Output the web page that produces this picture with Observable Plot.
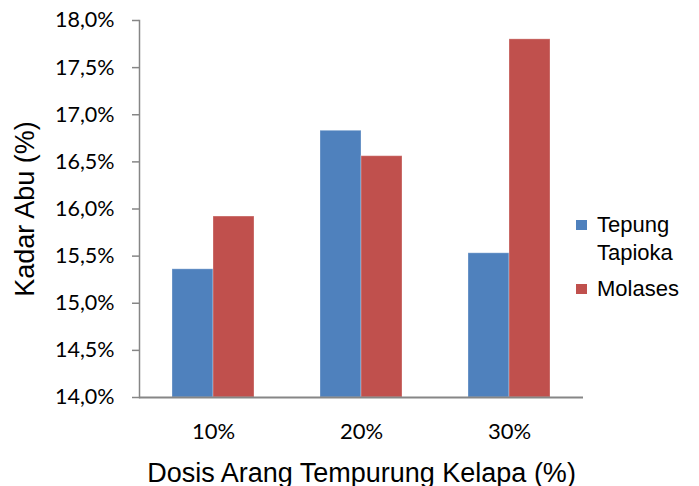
<!DOCTYPE html>
<html>
<head>
<meta charset="utf-8">
<script src="https://cdn.jsdelivr.net/npm/d3@7"></script>
<script src="https://cdn.jsdelivr.net/npm/@observablehq/plot@0.6"></script>
<style>
  html, body { margin: 0; padding: 0; background: #fff; }
  #chart { position: relative; width: 699px; height: 486px; }
  #chart svg { display: block; }
  #chart g[aria-label="y-axis label"],
  #chart g[aria-label="fx-axis label"] {
    font-family: "Liberation Sans", Arial, sans-serif;
    font-size: 27px;
  }
  .legend {
    position: absolute; left: 576px; top: 211px;
    font-family: "Liberation Sans", Arial, sans-serif; font-size: 22px; color: #000;
  }
  .legend .item { position: relative; padding-left: 21px; line-height: 28px; }
  .legend .item + .item { margin-top: 8px; }
  .legend .sw { position: absolute; left: 0; top: 9px; width: 11px; height: 10px; }
</style>
</head>
<body>
<div id="chart"></div>
<script>
// Ash content (%) by coconut-shell charcoal dose, for two binders
const doses = ["10%", "20%", "30%"];
const series = ["Tepung Tapioka", "Molases"];
const tepungTapioka = [15.36, 16.83, 15.53];
const molases = [15.92, 16.56, 17.8];
const colors = ["#4F81BD", "#C0504D"];
const yTicks = [14, 14.5, 15, 15.5, 16, 16.5, 17, 17.5, 18];
const yBase = 14;

const rows = doses.flatMap((dose, i) => [
  {dose, series: series[0], value: tepungTapioka[i]},
  {dose, series: series[1], value: molases[i]}
]);

const fmt = d => d.toFixed(1).replace(".", ",") + "%";

const chart = Plot.plot({
  width: 699,
  height: 486,
  marginLeft: 139,
  marginRight: 116,
  marginTop: 20,
  marginBottom: 89,
  style: {background: "#fff", color: "#000"},
  fx: {domain: doses, padding: 0},
  x: {domain: series, paddingInner: 0, paddingOuter: 0.762, axis: null},
  y: {domain: [yTicks[0], yTicks[yTicks.length - 1]]},
  color: {domain: series, range: colors},
  marks: [
    Plot.barY(rows, {
      fx: "dose", x: "series", y1: yBase, y2: "value", fill: "series",
      stroke: "#fff", strokeOpacity: 0.3, strokeWidth: 1
    }),
    // value axis line, drawn only beside the first group
    Plot.frame({anchor: "left", facetAnchor: "left", stroke: "#868686", strokeWidth: 1.5}),
    Plot.ruleY([yBase], {stroke: "#868686", strokeWidth: 2}),
    Plot.axisY({
      ticks: yTicks, tickFormat: fmt, tickSize: 7, tickPadding: 18,
      stroke: "#868686", strokeWidth: 1.5, fill: "#000",
      fontSize: 21.5, fontFamily: "Lato, sans-serif",
      label: "Kadar Abu (%)", labelAnchor: "center", labelArrow: "none", labelOffset: 125
    }),
    Plot.axisFx({
      anchor: "bottom",
      tickSize: 0, tickPadding: 26, fill: "#000",
      fontSize: 22, fontFamily: "Lato, sans-serif",
      label: "Dosis Arang Tempurung Kelapa (%)", labelAnchor: "center", labelArrow: "none", labelOffset: 84
    })
  ]
});

const host = document.getElementById("chart");
host.appendChild(chart);

// Legend on the right of the plot
const legend = document.createElement("div");
legend.className = "legend";
series.forEach((name, i) => {
  const item = document.createElement("div");
  item.className = "item";
  const sw = document.createElement("span");
  sw.className = "sw";
  sw.style.background = colors[i];
  item.appendChild(sw);
  const label = document.createElement("span");
  label.innerHTML = name.replace(" ", "<br>");
  item.appendChild(label);
  legend.appendChild(item);
});
host.appendChild(legend);
</script>
</body>
</html>
